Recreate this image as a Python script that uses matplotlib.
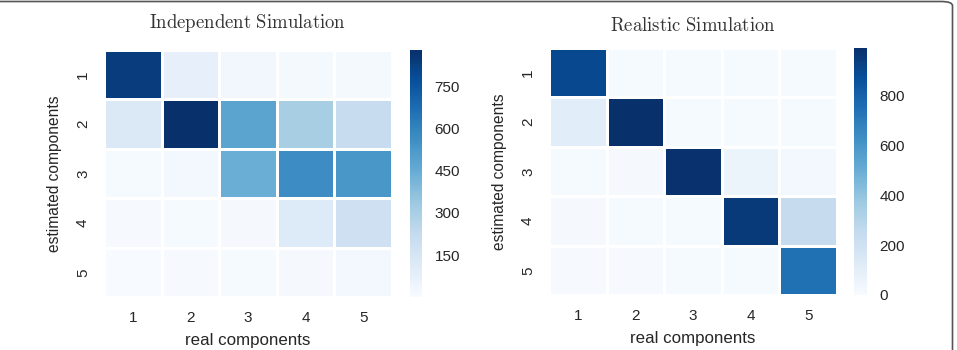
import matplotlib
matplotlib.use("Agg")
import matplotlib.pyplot as plt
import numpy as np
import seaborn as sns
from matplotlib.patches import FancyBboxPatch

# rows = estimated components, columns = real components
labels = ["1", "2", "3", "4", "5"]

independent = np.array([
    [835, 75, 25, 15, 15],
    [125, 878, 480, 305, 215],
    [10, 22, 440, 565, 530],
    [6, 10, 12, 115, 185],
    [1, 5, 8, 12, 20],
])
independent_ticks = [150, 300, 450, 600, 750]

realistic = np.array([
    [900, 10, 8, 8, 8],
    [110, 990, 8, 8, 8],
    [8, 12, 985, 55, 20],
    [15, 8, 8, 950, 245],
    [5, 5, 8, 8, 745],
])
realistic_ticks = [0, 200, 400, 600, 800]

plt.rcParams["font.family"] = ["Liberation Sans", "DejaVu Sans"]
plt.rcParams["mathtext.fontset"] = "cm"

W, H = 957, 350
fig = plt.figure(figsize=(W / 100, H / 100), dpi=100)


def px(x0, y0, x1, y1):
    return [x0 / W, 1 - y1 / H, (x1 - x0) / W, (y1 - y0) / H]


panels = [
    (independent, independent_ticks, None, r"$\mathrm{Independent\ Simulation}$",
     px(104, 50, 392, 297), px(410, 50, 422, 297), 16),
    (realistic, realistic_ticks, 0, r"$\mathrm{Realistic\ Simulation}$",
     px(549, 48, 837, 295), px(854, 48, 867, 295), 12),
]

for data, cticks, vmin, title, hm_rect, cb_rect, tpad in panels:
    ax = fig.add_axes(hm_rect)
    cax = fig.add_axes(cb_rect)
    sns.heatmap(data, ax=ax, cbar_ax=cax, cmap="Blues", vmin=vmin,
                linewidths=0.8, linecolor="white",
                xticklabels=labels, yticklabels=labels,
                cbar_kws={"ticks": cticks})
    ax.tick_params(length=0, labelsize=11, colors="#262626", pad=10)
    plt.setp(ax.get_yticklabels(), rotation=90, va="center")
    ax.set_xlabel("real components", fontsize=12.2, color="#262626", labelpad=6)
    ax.set_ylabel("estimated components", fontsize=11.2, color="#262626", labelpad=10)
    ax.set_title(title, fontsize=13.5, color="#333333", pad=tpad)
    cax.tick_params(length=0, labelsize=11, colors="#262626", pad=9)
    for s in cax.spines.values():
        s.set_visible(False)

# rounded frame from the source figure (top and right edges visible)
x0, y0 = -0.05, -0.2
frame = FancyBboxPatch((x0, y0), 952.5 / W - x0, (H - 1.5) / H - y0,
                       boxstyle="round,pad=0,rounding_size=0.012",
                       transform=fig.transFigure, fill=False,
                       edgecolor="#555555", linewidth=1.2, clip_on=False)
fig.patches.append(frame)

fig.savefig("out.png", dpi=100)
